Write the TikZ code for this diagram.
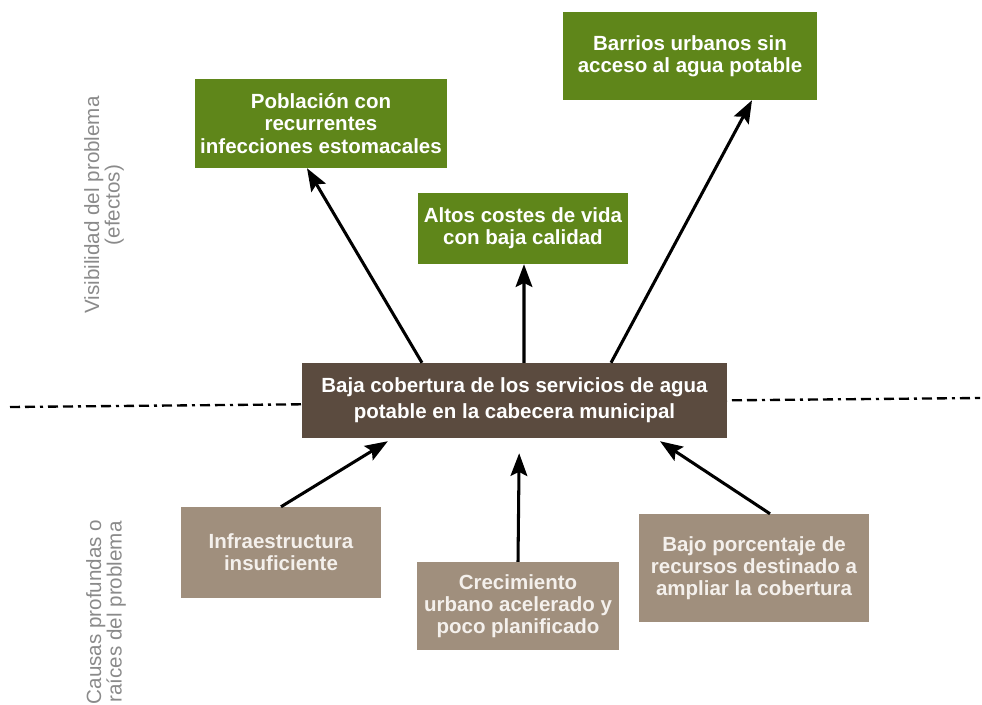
\documentclass[tikz,border=0pt]{standalone}
\usepackage{fontspec}
\setmainfont{Liberation Sans}
\usepackage{xcolor}
\usetikzlibrary{arrows.meta}
\definecolor{efecto}{HTML}{5F861A}
\definecolor{problema}{HTML}{5B4B3F}
\definecolor{causa}{HTML}{A08F7D}
\definecolor{textcausa}{HTML}{F4F0EC}
\definecolor{etiqueta}{HTML}{8A8A8A}
\tikzset{
  box/.style={rectangle, inner sep=0pt, align=center, font=\fontsize{17.5}{19}\selectfont\bfseries},
  efectobox/.style={box, fill=efecto, text=white},
  causabox/.style={box, fill=causa, text=textcausa},
  flecha/.style={line width=2.6pt, -{Stealth[length=0.68cm, width=0.5cm, inset=0.12cm]}},
  lado/.style={rotate=90, align=center, text=etiqueta, font=\fontsize{17.6}{15}\selectfont},
}

\begin{document}
\begin{tikzpicture}[x=0.03cm, y=-0.03cm]
  \useasboundingbox (0,0) rectangle (982,705);

  \coordinate (lineaL) at (10,407);
  \coordinate (lineaR) at (980,398);
  \draw[line width=2pt, dash pattern={on 0.3cm off 0.15cm on 0.3cm off 0.15cm on 0.09cm off 0.15cm}] (lineaL) -- (lineaR);

  \node[lado] (vis) at (104,205) {Visibilidad del problema\\(efectos)};
  \node[lado] (raices) at (106,612) {Causas profundas o\\raíces del problema};

  \node[box, fill=problema, text=white, minimum width=12.75cm, minimum height=2.25cm,
        font=\fontsize{17.5}{22.5}\selectfont\bfseries] (baja) at (514.5,400.5)
        {Baja cobertura de los servicios de agua\\potable en la cabecera municipal};

  \node[efectobox, minimum width=7.56cm, minimum height=2.67cm] (poblacion) at (321,123.5)
        {Población con\\recurrentes\\infecciones estomacales};
  \node[efectobox, minimum width=6.30cm, minimum height=2.13cm] (costes) at (523,228.5)
        {Altos costes de vida\\con baja calidad};
  \node[efectobox, minimum width=7.62cm, minimum height=2.64cm] (barrios) at (690,56)
        {Barrios urbanos sin\\acceso al agua potable};

  \node[causabox, minimum width=6.00cm, minimum height=2.73cm] (infra) at (281,552.5)
        {Infraestructura\\insuficiente};
  \node[causabox, minimum width=6.06cm, minimum height=2.64cm] (crec) at (518,606)
        {Crecimiento\\urbano acelerado y\\poco planificado};
  \node[causabox, minimum width=6.90cm, minimum height=3.24cm] (bajo) at (754,568)
        {Bajo porcentaje de\\recursos destinado a\\ampliar la cobertura};

  \draw[flecha] ([xshift=-2.775cm]baja.north) -- ([xshift=-0.42cm]poblacion.south);
  \draw[flecha] ([xshift=0.285cm]baja.north) -- ([xshift=0.03cm]costes.south);
  \draw[flecha] ([xshift=2.895cm]baja.north) -- ([xshift=1.86cm]barrios.south);

  \draw[flecha] (infra.north) -- ([xshift=-3.8cm, yshift=-0.09cm]baja.south);
  \draw[flecha] (crec.north) -- ([xshift=0.14cm, yshift=-0.45cm]baja.south);
  \draw[flecha] ([xshift=0.48cm]bajo.north) -- ([xshift=4.365cm, yshift=-0.09cm]baja.south);
\end{tikzpicture}
\end{document}
